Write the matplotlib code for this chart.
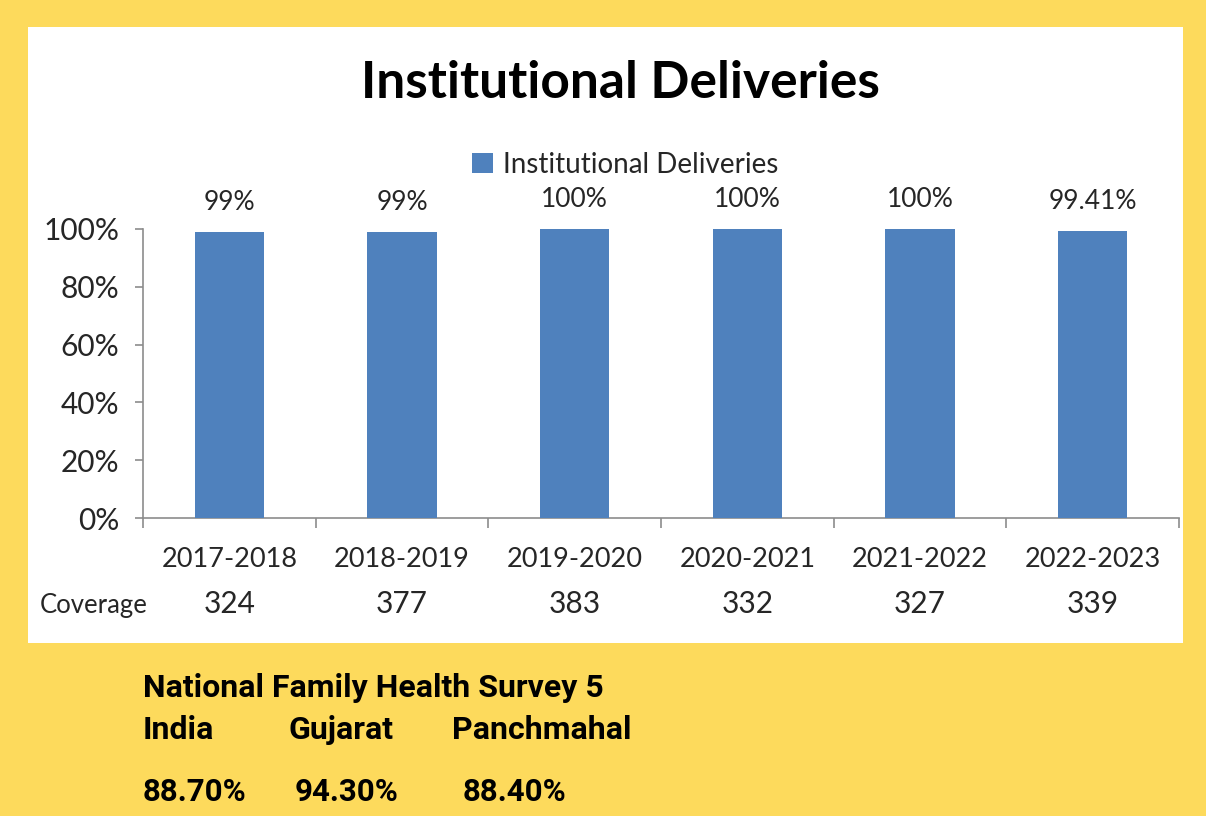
import matplotlib
matplotlib.use("Agg")
import matplotlib.pyplot as plt
from matplotlib.patches import Rectangle

# ---- data ----
years = ["2017-2018", "2018-2019", "2019-2020", "2020-2021", "2021-2022", "2022-2023"]
delivery_pct = [99, 99, 100, 100, 100, 99.41]
bar_labels = ["99%", "99%", "100%", "100%", "100%", "99.41%"]
coverage = [324, 377, 383, 332, 327, 339]
y_ticks = [0, 20, 40, 60, 80, 100]
series_name = "Institutional Deliveries"
title = "Institutional Deliveries"
survey_title = "National Family Health Survey 5"
survey_regions = ["India", "Gujarat", "Panchmahal"]
survey_values = ["88.70%", "94.30%", "88.40%"]

W, H = 1206, 816
YELLOW = "#FDDA5C"
BLUE = "#4F81BD"
TXT = "#262626"
GRID = "#8C8C8C"

fig = plt.figure(figsize=(W / 100, H / 100), dpi=100, facecolor=YELLOW)

def fx(px):
    return px / W

def fy(py):
    return 1 - py / H

# white chart panel
fig.patches.append(Rectangle((fx(28), fy(643)), fx(1183) - fx(28), fy(27) - fy(643),
                             transform=fig.transFigure, facecolor="white",
                             edgecolor="none", zorder=-5))

ax = fig.add_axes([fx(143), fy(518), fx(1179) - fx(143), fy(229) - fy(518)])
ax.set_zorder(2)
ax.set_facecolor("none")
x = list(range(len(years)))
bars = ax.bar(x, delivery_pct, width=0.4, color=BLUE, label=series_name, zorder=3)
ax.set_xlim(-0.5, len(years) - 0.5)
ax.set_ylim(0, 100)

for s in ["top", "right"]:
    ax.spines[s].set_visible(False)
for s in ["left", "bottom"]:
    ax.spines[s].set_color(GRID)
    ax.spines[s].set_linewidth(1.2)

ax.set_yticks(y_ticks)
ax.set_yticklabels([f"{v}%" for v in y_ticks], fontsize=21.5, color=TXT, family="Lato")
ax.tick_params(axis="y", length=6, width=1.2, color=GRID, pad=11)

ax.set_xticks(x)
ax.set_xticklabels(years, fontsize=19.5, color=TXT, family="Lato")
ax.tick_params(axis="x", length=0, pad=21)
ax.set_xticks([i - 0.5 for i in range(len(years) + 1)], minor=True)
ax.tick_params(axis="x", which="minor", length=7, width=1.2, color=GRID)

for xi, v, lab in zip(x, delivery_pct, bar_labels):
    ax.annotate(lab, (xi, v), xytext=(0, 12), textcoords="offset points",
                ha="center", va="bottom", fontsize=19, color=TXT, family="Lato",
                annotation_clip=False)

# coverage row
fig.text(fx(40), fy(606), "Coverage", fontsize=18.5, color=TXT, family="Lato",
         ha="left", va="center")
for xi, c in zip(x, coverage):
    xf = fig.transFigure.inverted().transform(ax.transData.transform((xi, 0)))[0]
    fig.text(xf, fy(604), str(c), fontsize=21.5, color=TXT, family="Lato",
             ha="center", va="center")

# title and legend
fig.text(fx(620), fy(84), title, fontsize=37, fontweight="bold", color="black",
         family="Lato", ha="center", va="center")
leg = ax.legend(loc="center", bbox_to_anchor=(fx(625), fy(165)),
                bbox_transform=fig.transFigure, frameon=False,
                handlelength=0.75, handleheight=0.75, handletextpad=0.35,
                prop={"family": "Lato", "size": 20})
for t in leg.get_texts():
    t.set_color(TXT)

# survey text below
fig.text(fx(143), fy(688), survey_title, fontsize=23, fontweight="bold",
         color="black", family="Roboto", ha="left", va="center")
region_x = [143, 289, 452]
value_x = [143, 295, 463]
for rx, r in zip(region_x, survey_regions):
    fig.text(fx(rx), fy(730), r, fontsize=23, fontweight="bold", color="black",
             family="Roboto", ha="left", va="center")
for vx, v in zip(value_x, survey_values):
    fig.text(fx(vx), fy(792), v, fontsize=22.5, fontweight="bold", color="black",
             family="Roboto", ha="left", va="center")

fig.savefig("out.png", dpi=100, facecolor=YELLOW)
